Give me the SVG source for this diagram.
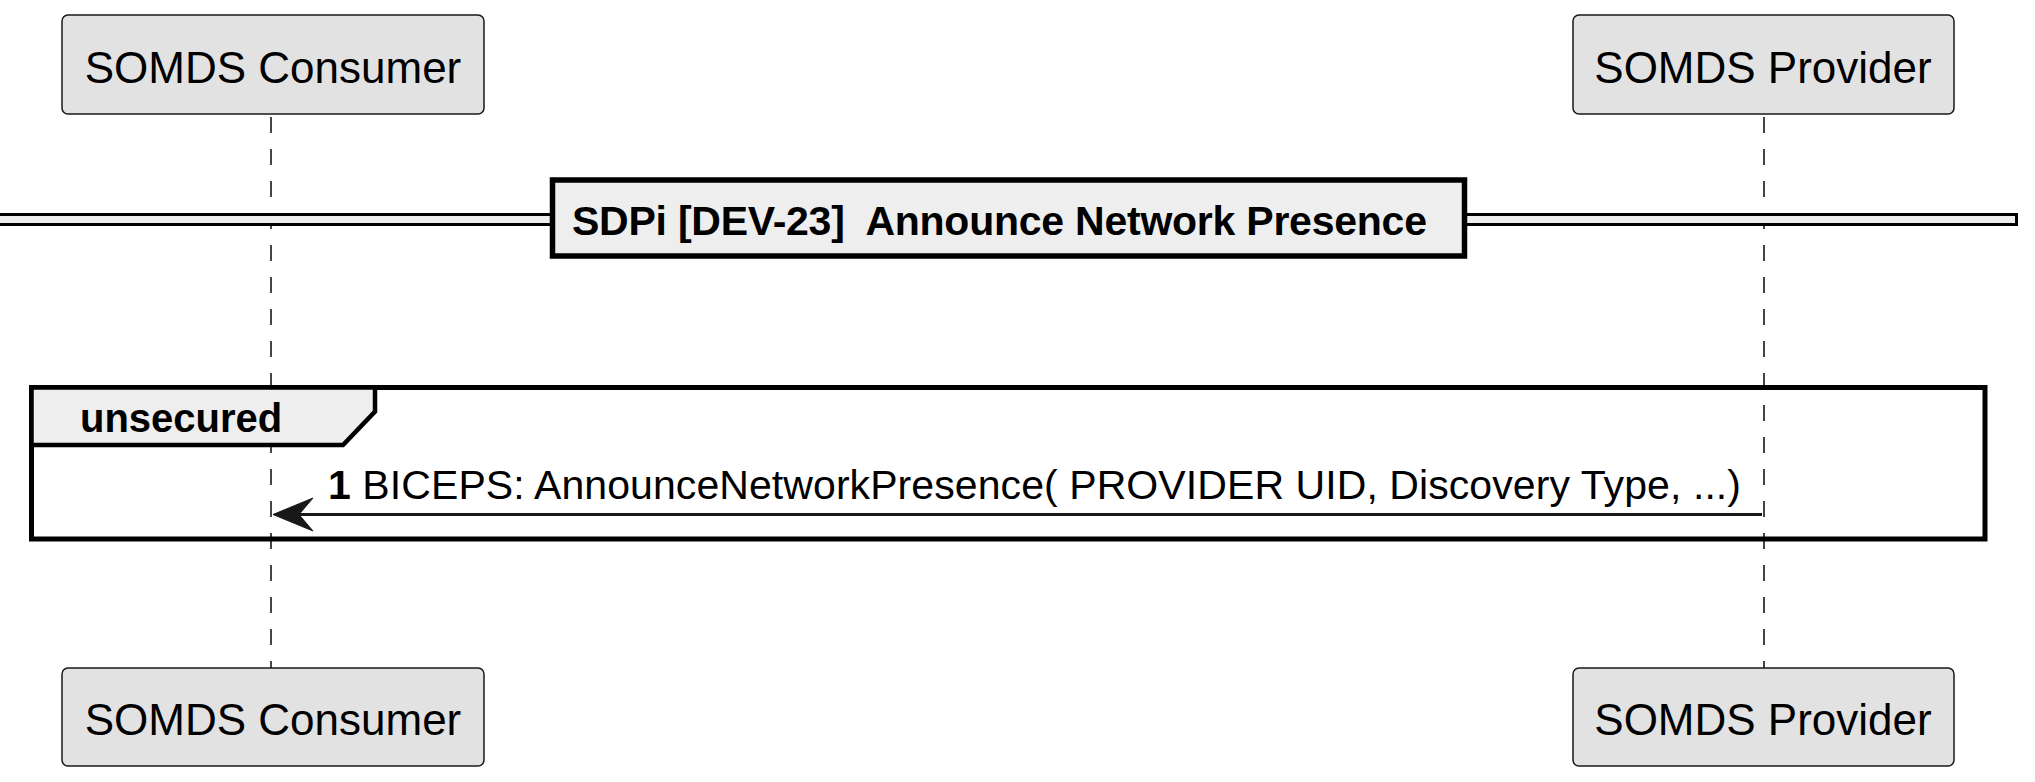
<svg xmlns="http://www.w3.org/2000/svg" width="2035" height="782" viewBox="0 0 2035 782">
<style>
.part rect{fill:#E2E2E2;stroke:#181818;stroke-width:1.5}
.part text{font-family:"Liberation Sans",Arial,sans-serif;font-size:44px;fill:#000;text-anchor:middle}
.life{stroke:#181818;stroke-width:1.6;stroke-dasharray:16,16;fill:none}
.bold{font-family:"Liberation Sans",Arial,sans-serif;font-weight:bold;fill:#000}
.reg{font-family:"Liberation Sans",Arial,sans-serif;fill:#000}
</style>
<rect width="2035" height="782" fill="#FFFFFF"/>
<g id="lifelines">
<line class="life" x1="271" y1="117" x2="271" y2="668"/>
<line class="life" x1="1764" y1="117" x2="1764" y2="668"/>
</g>
<g id="divider">
<rect x="-5" y="214.5" width="2021.5" height="10" fill="#EEEEEE" stroke="#000" stroke-width="3"/>
<rect x="552.5" y="180" width="912" height="76" fill="#EEEEEE" stroke="#000" stroke-width="5.5"/>
<text class="bold" x="572" y="235" font-size="41" xml:space="preserve" textLength="855">SDPi [DEV-23]  Announce Network Presence</text>
</g>
<g id="frame-unsecured">
<rect x="31.5" y="387.5" width="1953.5" height="151.5" fill="none" stroke="#000" stroke-width="5"/>
<path d="M31.5,387.5 L375,387.5 L375,411.5 L343,445 L31.5,445 Z" fill="#EEEEEE" stroke="#000" stroke-width="4.5"/>
<text class="bold" x="80" y="431.5" font-size="40">unsecured</text>
</g>
<g id="connectors">
<line x1="1762" y1="514.5" x2="290" y2="514.5" stroke="#181818" stroke-width="3"/>
<polygon points="273,514.5 313,498 299,514.5 313,531" fill="#181818" stroke="#181818" stroke-width="1"/>
<text x="328" y="499" font-size="41" textLength="1413" lengthAdjust="spacing"><tspan class="bold">1</tspan><tspan class="reg"> BICEPS: AnnounceNetworkPresence( PROVIDER UID, Discovery Type, ...)</tspan></text>
</g>
<g id="consumer-top" class="part">
<rect x="62" y="15" width="422" height="99" rx="6"/>
<text x="273" y="83">SOMDS Consumer</text>
</g>
<g id="provider-top" class="part">
<rect x="1573" y="15" width="381" height="99" rx="6"/>
<text x="1763" y="83">SOMDS Provider</text>
</g>
<g id="consumer-bottom" class="part">
<rect x="62" y="668" width="422" height="98" rx="6"/>
<text x="273" y="735">SOMDS Consumer</text>
</g>
<g id="provider-bottom" class="part">
<rect x="1573" y="668" width="381" height="98" rx="6"/>
<text x="1763" y="735">SOMDS Provider</text>
</g>
</svg>
